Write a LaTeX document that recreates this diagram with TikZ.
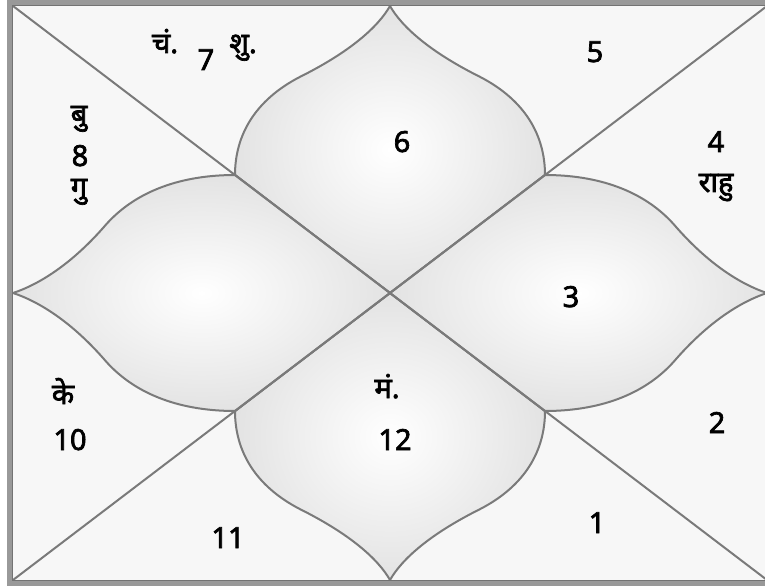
\documentclass[tikz,border=0pt]{standalone}
\usepackage{fontspec}
\newfontfamily\devfont[Script=Devanagari, AutoFakeBold=2.4]{Noto Sans}
\tikzset{
  chartline/.style={draw=black!52, line width=2pt, line join=round},
  petal/.style={shade, inner color=white, outer color=black!11},
  frame/.style={draw=black!40, line width=6pt},
  rashi/.style={font=\devfont\bfseries\fontsize{29}{30}\selectfont, inner sep=0pt, anchor=base},
  graha/.style={rashi},
}
% one lotus petal: #1 centre, #2 half width vector, #3 axis vector (centre to tip)
\newcommand{\lotuspetal}[3]{%
  \begin{scope}[shift={#1}, x={#2}, y={#3}]
    \path[petal, chartline] (0,1)
      .. controls (-0.077,0.927) and (-0.258,0.840) .. (-0.581,0.753)
      .. controls (-0.871,0.672) and (-1.0,0.55) .. (-1,0.411)
      -- (0,0) -- (1,0.411)
      .. controls (1.0,0.55) and (0.871,0.672) .. (0.581,0.753)
      .. controls (0.258,0.840) and (0.077,0.927) .. (0,1) -- cycle;
  \end{scope}}

\begin{document}
\begin{tikzpicture}[x=1pt, y=-1pt]
  \useasboundingbox (0,0) rectangle (765,588);
  \clip (0,0) rectangle (765,588);

  % Chart corners
  \coordinate (tl) at (13,6);
  \coordinate (tr) at (767,6);
  \coordinate (bl) at (13,580);
  \coordinate (br) at (767,580);
  \coordinate (c) at (390,293);
  \fill[black!3] (tl) rectangle (br);

  % Petals
  \lotuspetal{(c)}{(155pt,0pt)}{(0pt,287pt)}
  \lotuspetal{(c)}{(155pt,0pt)}{(0pt,-287pt)}
  \lotuspetal{(c)}{(0pt,118pt)}{(-377pt,0pt)}
  \lotuspetal{(c)}{(0pt,118pt)}{(377pt,0pt)}

  % Diagonals
  \draw[chartline] (tl) -- (br);
  \draw[chartline] (tr) -- (bl);

  % Frame
  \draw[frame] (10,3) rectangle (770,583);
  \draw[black!55, line width=1pt] (12.5,5.5) rectangle (767.5,580.5);

  % Houses and planets
  \node[graha] (chandra) at (165,53) {चं.};
  \node[rashi] (h7) at (206,70) {7};
  \node[graha] (shukra) at (243,53) {शु.};
  \node[graha] (budha) at (79,124) {बु};
  \node[rashi] (h8) at (80,166) {8};
  \node[graha] (guru) at (79,197) {गु};
  \node[rashi] (h5) at (595,62) {5};
  \node[rashi] (h6) at (402,152) {6};
  \node[rashi] (h4) at (716,152) {4};
  \node[graha] (rahu) at (716,192) {राहु};
  \node[rashi] (h3) at (571,307) {3};
  \node[graha] (ketu) at (63,404) {के};
  \node[rashi] (h10) at (70,450) {10};
  \node[graha] (mangal) at (387,398) {मं.};
  \node[rashi] (h12) at (395,450) {12};
  \node[rashi] (h2) at (717,433) {2};
  \node[rashi] (h1) at (597,533) {1};
  \node[rashi] (h11) at (228,548) {11};
\end{tikzpicture}
\end{document}
